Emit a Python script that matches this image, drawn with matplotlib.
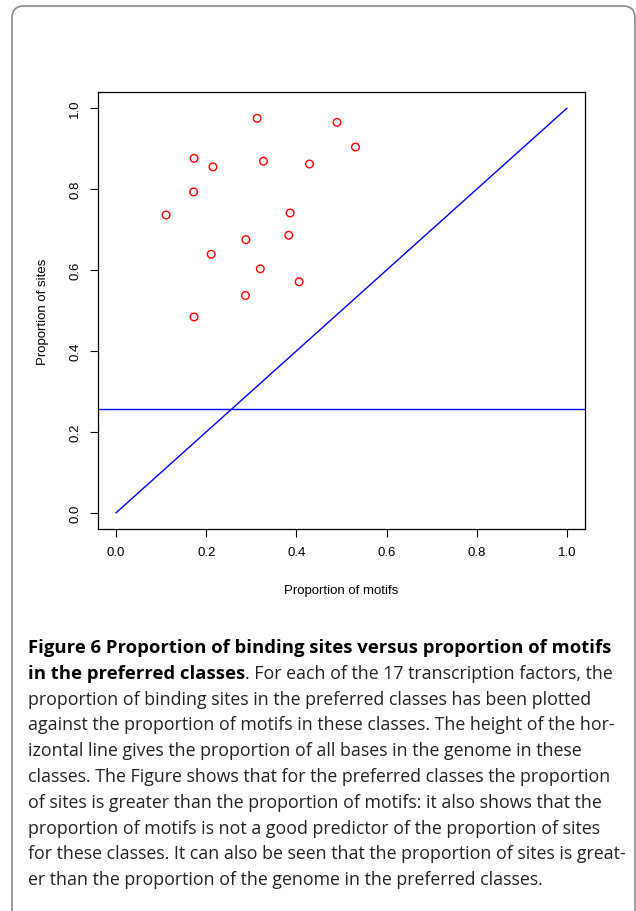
import matplotlib
matplotlib.use('Agg')
import matplotlib.pyplot as plt
import numpy as np
from matplotlib.patches import FancyBboxPatch
from matplotlib.transforms import IdentityTransform

# proportion of motifs / proportion of sites for the 17 transcription factors
motifs = [0.313, 0.490, 0.531, 0.173, 0.215, 0.327, 0.429, 0.172, 0.111,
          0.386, 0.383, 0.288, 0.211, 0.320, 0.406, 0.287, 0.173]
sites = [0.975, 0.965, 0.904, 0.876, 0.855, 0.869, 0.862, 0.793, 0.736,
         0.741, 0.686, 0.675, 0.639, 0.603, 0.571, 0.537, 0.484]
genome_prop = 0.257
ticks = [0.0, 0.2, 0.4, 0.6, 0.8, 1.0]

caption_bold1 = "Figure 6 Proportion of binding sites versus proportion of motifs"
caption_bold2 = "in the preferred classes"
caption_rest2 = ". For each of the 17 transcription factors, the"
caption_lines = [
    "proportion of binding sites in the preferred classes has been plotted",
    "against the proportion of motifs in these classes. The height of the hor-",
    "izontal line gives the proportion of all bases in the genome in these",
    "classes. The Figure shows that for the preferred classes the proportion",
    "of sites is greater than the proportion of motifs: it also shows that the",
    "proportion of motifs is not a good predictor of the proportion of sites",
    "for these classes. It can also be seen that the proportion of sites is great-",
    "er than the proportion of the genome in the preferred classes.",
]

W, H = 636, 912
fig = plt.figure(figsize=(W / 100, H / 100), dpi=100)
plt.rcParams['font.family'] = ['Liberation Sans', 'DejaVu Sans']

ax = fig.add_axes([98 / W, 1 - 530 / H, (585 - 98) / W, (530 - 93) / H])
ax.scatter(motifs, sites, s=30, facecolors='none', edgecolors='red', linewidths=1, zorder=3)
ax.plot([0, 1], [0, 1], color='blue', lw=1)
ax.axhline(genome_prop, color='blue', lw=1)
ax.set_xlim(-0.04, 1.04)
ax.set_ylim(-0.04, 1.04)
ax.set_xticks(ticks)
ax.set_yticks(ticks)
ax.set_xticklabels(['%.1f' % t for t in ticks], fontsize=9.5)
ax.set_yticklabels(['%.1f' % t for t in ticks], fontsize=9.5, rotation=90, va='center')
ax.tick_params(length=6, width=0.8, pad=6)
for s in ax.spines.values():
    s.set_linewidth(0.9)
ax.set_xlabel('Proportion of motifs', fontsize=9.5, labelpad=19)
ax.set_ylabel('Proportion of sites', fontsize=9.5, labelpad=15)

# outer rounded frame
frame = FancyBboxPatch((12, -20), 623, 925, boxstyle='round,pad=0,rounding_size=12',
                       transform=IdentityTransform(), fill=False, edgecolor='#888888', lw=1.2)
fig.patches.append(frame)

# caption
cap_font = 'Open Sans'
fs_b = 13.3
fs = 12.75
x0 = 28 / W
y_first = 648
step = 25.8
fig.text(x0, 1 - y_first / H, caption_bold1, fontsize=fs_b, family=cap_font,
         fontweight='bold', va='center')
t2 = fig.text(x0, 1 - (y_first + step) / H, caption_bold2, fontsize=fs_b, family=cap_font,
              fontweight='bold', va='center')
r = fig.canvas.get_renderer()
bb = t2.get_window_extent(renderer=r)
fig.text(bb.x1 / W, 1 - (y_first + step) / H, caption_rest2, fontsize=fs, family=cap_font,
         color='#222222', va='center')
for i, line in enumerate(caption_lines):
    fig.text(x0, 1 - (y_first + step * (i + 2)) / H, line, fontsize=fs, family=cap_font,
             color='#222222', va='center')

fig.savefig('out.png', dpi=100)
